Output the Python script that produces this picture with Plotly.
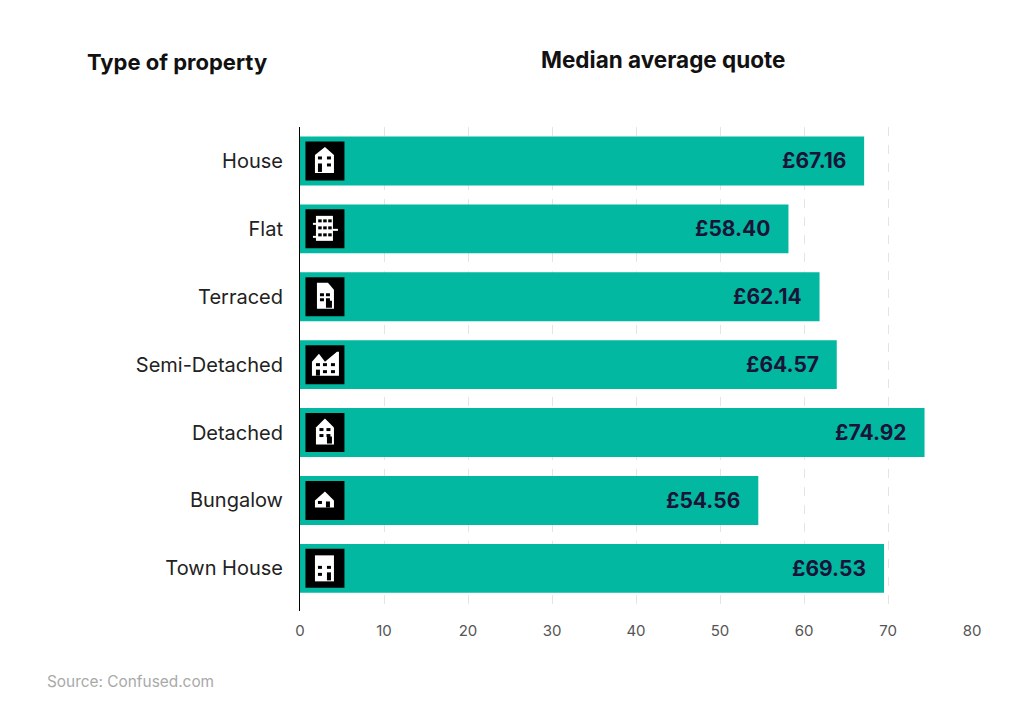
import plotly.graph_objects as go

categories = ["House", "Flat", "Terraced", "Semi-Detached", "Detached", "Bungalow", "Town House"]
# Bar lengths as drawn in the picture (read against the axis); printed labels are kept separately
values = [67.16, 58.15, 61.85, 63.9, 74.35, 54.56, 69.53]
labels = ["£67.16", "£58.40", "£62.14", "£64.57", "£74.92", "£54.56", "£69.53"]
icon_names = ["house", "flat", "terraced", "semi", "detached", "bungalow", "town"]
x_ticks = [0, 10, 20, 30, 40, 50, 60, 70, 80]

PAGE = 8  # the page body adds this offset around the figure
W, H = 1016 - PAGE, 719 - PAGE
L, R, T, B = 300, 972, 127, 611
FONT = "Inter, 'Noto Sans', sans-serif"
TEAL = "#03B8A0"
INK = "#1B1438"


def rect(x0, y0, x1, y1):
    return [(x0, y0), (x1, y0), (x1, y1), (x0, y1)]


def win(cols, rows, w=4, h=3):
    return [rect(c - w / 2, r - h / 2, c + w / 2, r + h / 2) for c in cols for r in rows]


ICONS = {
    "house": ([[(-10, -6), (0, -14), (9, -6), (9, 12), (-10, 12)]],
              win([-5, 4], [-3, 4]) + [rect(-7, 5, -3, 11)]),
    "flat": ([rect(-9, -13, 8, 12), rect(-12, -6, -9, -4), rect(-12, 7, -9, 9), rect(8, 0, 13, 2)],
             win([-5, 0, 5], [-8, -1, 6], 3.5, 3)),
    "terraced": ([[(-8, -14), (3, -14), (9, -7), (9, 12), (-8, 12)]],
                 win([-3, 3], [-2, 3]) + [rect(1, 4, 7, 11)]),
    "semi": ([[(-13, -3), (-6, -11), (0, -3), (12, -13), (14, -13), (14, 11), (-13, 11)]],
             win([-7, 0, 8], [0]) + win([0, 8], [7]) + [rect(-9, 5, -5, 11)]),
    "detached": ([[(-9, -5), (0, -14), (9, -5), (9, 12), (-9, 12)]],
                 win([-3.5, 3.5], [-3, 3]) + [rect(2, 4, 7, 11)]),
    "bungalow": ([[(-10, 0), (0, -9), (9, 0), (9, 7), (-10, 7)]],
                 win([-5], [2], 4, 3) + [rect(1, 1, 5, 7)]),
    "town": ([rect(-10, -13, 9, 13)],
             win([-5, 4], [-1], 4, 3) + win([-5], [6], 4, 3) + [rect(2, 4, 6, 12)]),
}


def poly_path(points):
    # points use screen-style offsets; pixel-sized shapes measure y upwards
    return "M" + " L".join(f"{x},{-y}" for x, y in points) + " Z"


def icon_shape(anchor_y, points, color):
    return dict(type="path", xref="x", yref="y", xsizemode="pixel", ysizemode="pixel",
                xanchor=2.97, yanchor=anchor_y, path=poly_path(points),
                fillcolor=color, line=dict(width=0), layer="above")


shapes = []
for i, name in enumerate(icon_names):
    whites, blacks = ICONS[name]
    shapes.append(icon_shape(i, rect(-19.5, -19.5, 19.5, 19.5), "#000000"))
    shapes += [icon_shape(i, p, "#FFFFFF") for p in whites]
    shapes += [icon_shape(i, p, "#000000") for p in blacks]

fig = go.Figure(go.Bar(x=values, y=categories, orientation="h", width=0.72,
                       marker=dict(color=TEAL, line=dict(width=0)), hoverinfo="skip"))

annotations = [
    dict(x=v, y=c, xref="x", yref="y", text=f"<b>{t}</b>", showarrow=False, xanchor="right",
         xshift=-16, font=dict(family=FONT, size=21, color=INK))
    for v, c, t in zip(values, categories, labels)
]


def page_text(px, py, text, size, color, anchor="center"):
    return dict(x=(px - L) / (R - L), y=(B - py) / (B - T), xref="paper", yref="paper",
                text=text, showarrow=False, xanchor=anchor, yanchor="middle",
                font=dict(family=FONT, size=size, color=color))


annotations += [
    page_text(176.5, 62, "<b>Type of property</b>", 22, "#111111"),
    page_text(663.5, 60, "<b>Median average quote</b>", 22.5, "#111111"),
    page_text(45, 681, "Source: Confused.com", 15.4, "#A9A9A9", "left"),
]

fig.update_layout(
    width=W, height=H, autosize=False,
    margin=dict(l=L - PAGE, r=1016 - R, t=T - PAGE, b=719 - B, pad=0),
    paper_bgcolor="#FFFFFF", plot_bgcolor="#FFFFFF", showlegend=False,
    shapes=shapes, annotations=annotations,
    font=dict(family=FONT),
    xaxis=dict(range=[0, 80], tickvals=x_ticks, showgrid=True, gridcolor="#E4E4E4",
               griddash="dash", gridwidth=1, zeroline=False, showline=False, ticks="outside",
               ticklen=6, tickcolor="rgba(0,0,0,0)", tickfont=dict(family=FONT, size=15, color="#555555")),
    yaxis=dict(type="category", categoryorder="array", categoryarray=categories,
               range=[6.628, -0.5], showgrid=False, zeroline=False, showline=True,
               linecolor="#000000", linewidth=1, ticks="outside", ticklen=12,
               tickcolor="rgba(0,0,0,0)", tickfont=dict(family=FONT, size=20, color="#222222")),
)

fig.write_html("out.html")
